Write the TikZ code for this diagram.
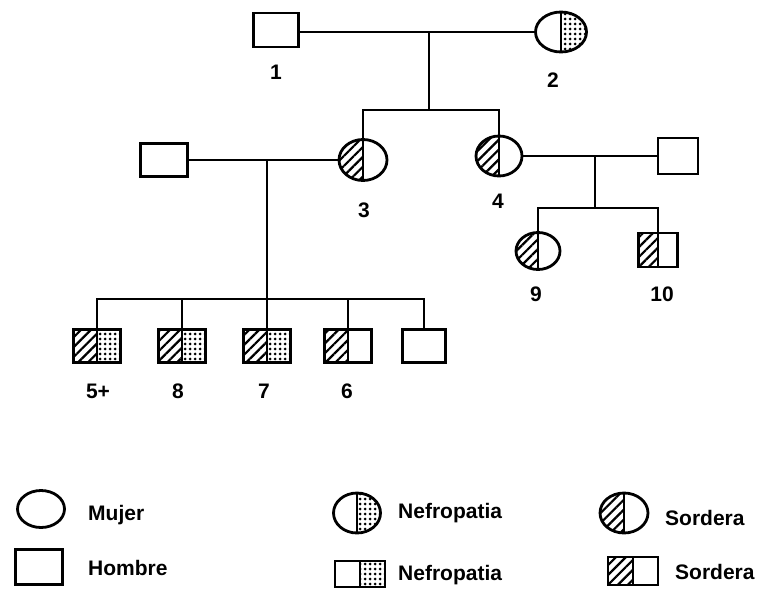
\documentclass[tikz,border=0pt]{standalone}
\usepackage{fontspec}
\setmainfont{Liberation Sans}
\usetikzlibrary{shapes.geometric,patterns.meta}

\newcommand\hatchleft{\fill[pattern={Lines[angle=45,distance=7pt,line width=2.2pt]}]
  (path picture bounding box.south west) rectangle (path picture bounding box.north);}
\newcommand\dotright{\fill[pattern={Dots[radius=1.5pt,distance=5pt]}]
  (path picture bounding box.south east) rectangle (path picture bounding box.north);}
\newcommand\midline{\draw[line width=2.4pt]
  (path picture bounding box.north) -- (path picture bounding box.south);}

\tikzset{
  ped/.style={draw, line width=2.8pt, inner sep=0pt},
  male/.style={ped, rectangle, minimum width=47pt, minimum height=33pt},
  female/.style={ped, ellipse, minimum width=48pt, minimum height=41pt},
  sord/.style={path picture={\hatchleft\midline}},
  nefro/.style={path picture={\dotright\midline}},
  ambos/.style={path picture={\hatchleft\dotright\midline}},
  lbl/.style={font=\fontsize{21}{24}\selectfont\bfseries, inner sep=0pt},
  line/.style={line width=2.8pt}
}

\begin{document}
\begin{tikzpicture}[x=1pt,y=-1pt]
  \useasboundingbox (0,0) rectangle (770,589);
  % generacion I
  \node[male, minimum width=45pt, minimum height=34pt] (n1) at (276,30) {};
  \node[female, nefro, minimum width=51pt, minimum height=40pt] (n2) at (561,32) {};
  \node[lbl] (t1) at (276,72) {1};
  \node[lbl] (t2) at (553,80) {2};
  \coordinate (m12) at (429,32);
  \coordinate (s34) at (429,110);
  % generacion II
  \node[male] (p3) at (164,160) {};
  \node[female, sord] (n3) at (363,160) {};
  \node[female, sord, minimum width=46pt, minimum height=40pt] (n4) at (499,156) {};
  \node[male, minimum width=40pt, minimum height=36pt] (p4) at (678,156) {};
  \node[lbl] (t3) at (364,210) {3};
  \node[lbl] (t4) at (498,201) {4};
  \coordinate (m3) at (267,160);
  \coordinate (s3) at (267,299);
  \coordinate (m4) at (595,156);
  \coordinate (s4) at (595,208);
  % generacion III
  \node[female, sord, minimum width=44pt, minimum height=37pt] (n9) at (538,251) {};
  \node[male, sord, minimum width=39pt, minimum height=34pt] (n10) at (658,250) {};
  \node[lbl] (t9) at (536,294) {9};
  \node[lbl] (t10) at (662,294) {10};
  \node[male, ambos] (n5) at (97,346) {};
  \node[male, ambos] (n8) at (182,346) {};
  \node[male, ambos] (n7) at (267,346) {};
  \node[male, sord] (n6) at (348,346) {};
  \node[male, minimum width=43pt] (nx) at (424,346) {};
  \node[lbl] (t5) at (98,391) {5+};
  \node[lbl] (t8) at (178,391) {8};
  \node[lbl] (t7) at (264,391) {7};
  \node[lbl] (t6) at (347,391) {6};
  % lineas
  \draw[line] (n1.east |- m12) -- (n2);
  \draw[line] (m12) -- (s34);
  \draw[line] (s34) -| (n3);
  \draw[line] (s34) -| (n4);
  \draw[line] (p3) -- (n3);
  \draw[line] (m3) -- (s3);
  \foreach \c in {n5,n8,n7,n6,nx}
    \draw[line] (s3) -| (\c);
  \draw[line] (n4) -- (p4);
  \draw[line] (m4) -- (s4);
  \draw[line] (s4) -| (n9);
  \draw[line] (s4) -| (n10);
  % leyenda
  \node[female, minimum width=47pt, minimum height=37pt] (lm) at (41,509) {};
  \node[lbl, anchor=west] (tm) at (88,515) {Mujer};
  \node[male, minimum width=47pt, minimum height=35pt] (lh) at (39,567) {};
  \node[lbl, anchor=west] (th) at (88,568) {Hombre};
  \node[female, nefro, minimum width=47pt, minimum height=40pt] (lnc) at (357,513) {};
  \node[lbl, anchor=west] (tnc) at (398,513) {Nefropatia};
  \node[male, nefro, minimum width=50pt, minimum height=26pt] (lns) at (360,574) {};
  \node[lbl, anchor=west] (tns) at (398,575) {Nefropatia};
  \node[female, sord, minimum width=48pt, minimum height=40pt] (lsc) at (624,513) {};
  \node[lbl, anchor=west] (tsc) at (665,518) {Sordera};
  \node[male, sord, minimum width=50pt, minimum height=28pt] (lss) at (633,571) {};
  \node[lbl, anchor=west] (tss) at (675,572) {Sordera};
\end{tikzpicture}
\end{document}
